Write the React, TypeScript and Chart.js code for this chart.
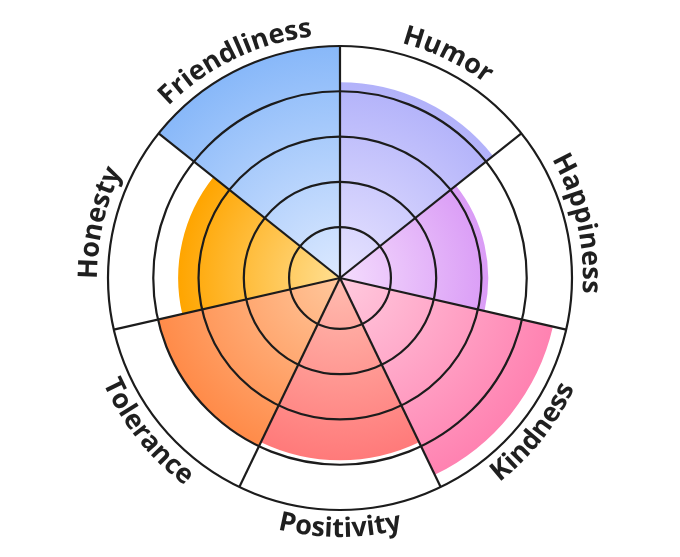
import React, { useEffect, useRef } from "react";
import { Chart, registerables } from "chart.js";

Chart.register(...registerables);

const labels = ["Friendliness", "Humor", "Happiness", "Kindness", "Positivity", "Tolerance", "Honesty"];
const values = [100, 84, 63, 94, 78, 80, 69];
const tickValues = [-2.5, 20, 40, 60, 80, 100];
const outerColors = ["#88b8f9", "#b2b2fa", "#da9cf6", "#ff82b1", "#ff7a7a", "#ff8b49", "#ffa500"];
const innerColors = ["#dce9ff", "#e8e4ff", "#f4dcfd", "#ffcade", "#ffbcb0", "#ffc79c", "#ffdf92"];

const START_ANGLE = -360 / labels.length;

const curvedLabels = {
  id: "curvedLabels",
  afterDraw(chart: any) {
    const s = chart.scales.r;
    if (!s) return;
    const ctx = chart.ctx;
    const n = labels.length;
    const cx = s.xCenter;
    const cy = s.yCenter;
    const R = s.drawingArea;
    ctx.save();
    ctx.font = "bold 27px 'Open Sans'";
    ctx.fillStyle = "#1f1f1f";
    ctx.textAlign = "center";
    ctx.textBaseline = "alphabetic";
    labels.forEach((text, i) => {
      const theta = (START_ANGLE * Math.PI) / 180 + ((i + 0.5) * 2 * Math.PI) / n;
      const flip = Math.cos(theta) < 0;
      const rad = flip ? R + 27 : R + 11;
      const total = ctx.measureText(text).width;
      for (let k = 0; k < text.length; k++) {
        const before = ctx.measureText(text.slice(0, k)).width;
        const cw = ctx.measureText(text[k]).width;
        const off = (before + cw / 2 - total / 2) / rad;
        const a = flip ? theta - off : theta + off;
        const x = cx + rad * Math.sin(a);
        const y = cy - rad * Math.cos(a);
        ctx.save();
        ctx.translate(x, y);
        ctx.rotate(flip ? a - Math.PI : a);
        ctx.fillText(text[k], 0, 0);
        ctx.restore();
      }
    });
    ctx.restore();
  },
};

export default function App() {
  const ref = useRef<HTMLCanvasElement | null>(null);
  useEffect(() => {
    if (!ref.current) return;
    const chart = new Chart(ref.current, {
      type: "polarArea",
      data: {
        labels,
        datasets: [
          {
            data: values,
            borderWidth: 0,
            backgroundColor: (c: any) => {
              const i = c.dataIndex;
              const chartRef = c.chart;
              const s = chartRef.scales && chartRef.scales.r;
              if (i === undefined || !s || s.xCenter === undefined || !s.drawingArea) {
                return outerColors[i ?? 0];
              }
              const r = Math.max(1, s.getDistanceFromCenterForValue(values[i]));
              const g = chartRef.ctx.createRadialGradient(s.xCenter, s.yCenter, 0, s.xCenter, s.yCenter, r);
              g.addColorStop(0, innerColors[i]);
              g.addColorStop(1, outerColors[i]);
              return g;
            },
          },
        ],
      },
      options: {
        animation: false,
        responsive: false,
        layout: { padding: { top: 46, bottom: 47, left: 108, right: 108 } },
        plugins: { legend: { display: false }, tooltip: { enabled: false } },
        scales: {
          r: {
            min: -2.5,
            max: 100,
            startAngle: START_ANGLE,
            afterBuildTicks: (scale: any) => {
              scale.ticks = tickValues.map((v) => ({ value: v }));
            },
            ticks: { display: false },
            pointLabels: { display: false },
            grid: { display: true, circular: true, color: "#1c1c1c", lineWidth: 2.2, z: 1 },
            angleLines: { display: true, color: "#1c1c1c", lineWidth: 2.2 },
          },
        },
      },
      plugins: [curvedLabels],
    } as any);
    return () => chart.destroy();
  }, []);
  return (
    <div style={{ position: "absolute", left: 0, top: 0, width: 680, height: 557, background: "#fff" }}>
      <canvas ref={ref} width={680} height={557} style={{ display: "block" }} />
    </div>
  );
}
